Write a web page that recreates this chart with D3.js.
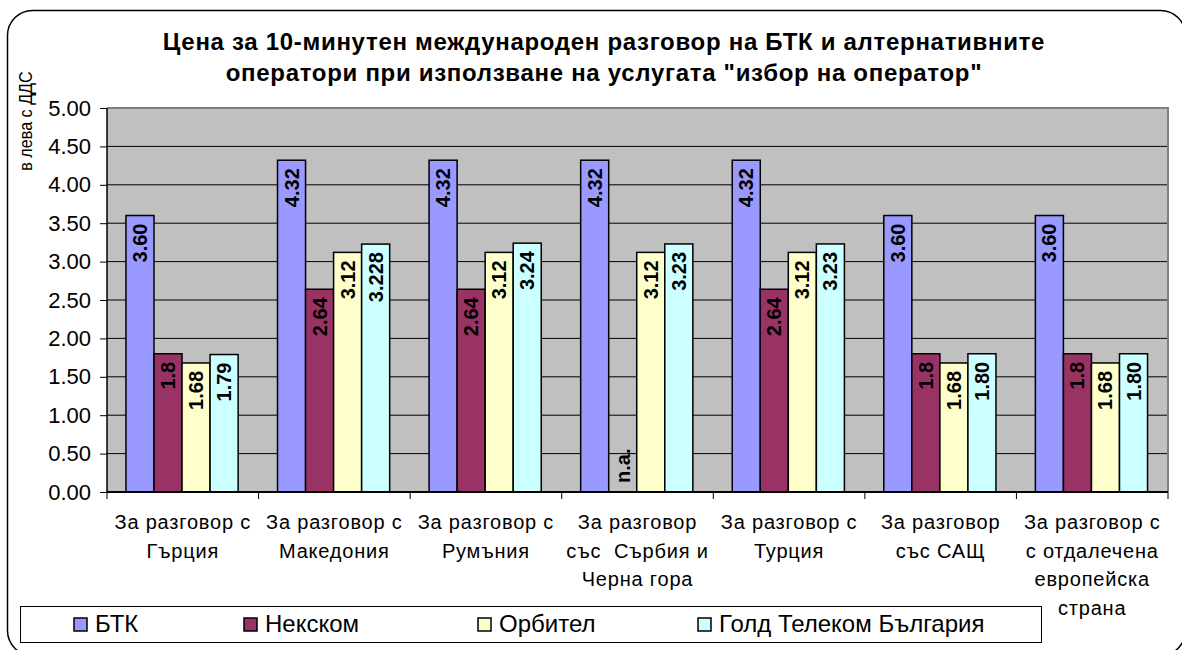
<!DOCTYPE html>
<html lang="bg">
<head>
<meta charset="UTF-8">
<title>Цена за 10-минутен международен разговор</title>
<script src="https://cdnjs.cloudflare.com/ajax/libs/d3/7.8.5/d3.min.js"></script>
<style>
  body { margin: 0; background: #fff; }
  svg { display: block; font-family: "Liberation Sans", Arial, sans-serif; }
</style>
</head>
<body>
<svg id="chart" width="1182" height="650"></svg>
<script>
// categories (x-axis labels, one entry per line)
const categories = [
  ["За разговор с", "Гърция"],
  ["За разговор с", "Македония"],
  ["За разговор с", "Румъния"],
  ["За разговор", "със  Сърбия и", "Черна гора"],
  ["За разговор с", "Турция"],
  ["За разговор", "със САЩ"],
  ["За разговор с", "с отдалечена", "европейска", "страна"]
];
const seriesNames = ["БТК", "Некском", "Орбител", "Голд Телеком България"];

// prices, лв с ДДС
const btk     = [3.60, 4.32, 4.32, 4.32, 4.32, 3.60, 3.60];
const nexcom  = [1.8, 2.64, 2.64, null, 2.64, 1.8, 1.8];
const orbitel = [1.68, 3.12, 3.12, 3.12, 3.12, 1.68, 1.68];
const gold    = [1.79, 3.228, 3.24, 3.23, 3.23, 1.80, 1.80];

// labels as printed on the bars
const btkLabels     = ["3.60", "4.32", "4.32", "4.32", "4.32", "3.60", "3.60"];
const nexcomLabels  = ["1.8", "2.64", "2.64", "n.a.", "2.64", "1.8", "1.8"];
const orbitelLabels = ["1.68", "3.12", "3.12", "3.12", "3.12", "1.68", "1.68"];
const goldLabels    = ["1.79", "3.228", "3.24", "3.23", "3.23", "1.80", "1.80"];

const yTicks = [0, 0.5, 1, 1.5, 2, 2.5, 3, 3.5, 4, 4.5, 5];

const titleLines = [
  "Цена за 10-минутен международен разговор на БТК и алтернативните",
  "оператори при използване на услугата \"избор на оператор\""
];
const yTitle = "в лева с ДДС";

const colors = ["#9999ff", "#993366", "#ffffcc", "#ccffff"];
const values = [btk, nexcom, orbitel, gold];
const labels = [btkLabels, nexcomLabels, orbitelLabels, goldLabels];

const svg = d3.select("#chart");
const pLeft = 107, pRight = 1168, pTop = 108, pBottom = 492;

// outer frame
svg.append("rect")
  .attr("x", 7.5).attr("y", 10.5)
  .attr("width", 1178).attr("height", 645)
  .attr("rx", 25)
  .attr("fill", "#fff")
  .attr("stroke", "#000")
  .attr("stroke-width", 1.5);

// title
svg.append("g").selectAll("text")
  .data(titleLines)
  .join("text")
  .attr("x", 604)
  .attr("y", (d, i) => 50 + i * 31)
  .attr("text-anchor", "middle")
  .style("font-size", "24px")
  .style("letter-spacing", "0.7px")
  .style("font-weight", "bold")
  .text(d => d);

// scales
const x = d3.scaleBand()
  .domain(d3.range(categories.length))
  .range([pLeft, pRight])
  .padding(0);

const bw = x.bandwidth();
const xs = d3.scaleBand()
  .domain(d3.range(seriesNames.length))
  .range([bw * 0.125, bw * 0.865]);

const y = d3.scaleLinear().domain([0, 5]).range([pBottom, pTop]);

// plot background
svg.append("rect")
  .attr("x", pLeft).attr("y", pTop)
  .attr("width", pRight - pLeft).attr("height", pBottom - pTop)
  .attr("fill", "#c0c0c0");

// gridlines
svg.append("g").selectAll("line")
  .data(yTicks.filter(v => v > 0 && v < 5))
  .join("line")
  .attr("x1", pLeft).attr("x2", pRight)
  .attr("y1", d => y(d)).attr("y2", d => y(d))
  .attr("stroke", "#000")
  .attr("stroke-width", 1);

// top and right border of plot area
svg.append("path")
  .attr("d", `M${pLeft},${pTop}H${pRight}V${pBottom}`)
  .attr("fill", "none")
  .attr("stroke", "#808080")
  .attr("stroke-width", 2);

// bars
const groups = svg.append("g").selectAll("g")
  .data(categories.map((c, i) => i))
  .join("g")
  .attr("transform", i => `translate(${x(i)},0)`);

groups.selectAll("rect")
  .data(i => values.map((s, k) => ({ k, v: s[i], label: labels[k][i] })).filter(d => d.v != null))
  .join("rect")
  .attr("x", d => xs(d.k))
  .attr("y", d => y(d.v))
  .attr("width", xs.bandwidth())
  .attr("height", d => y(0) - y(d.v))
  .attr("fill", d => colors[d.k])
  .attr("stroke", "#000")
  .attr("stroke-width", 1.5);

// bar labels (rotated, inside end)
groups.selectAll("text")
  .data(i => values.map((s, k) => ({ k, v: s[i], label: labels[k][i] })))
  .join("text")
  .attr("transform", d => {
    const cx = xs(d.k) + xs.bandwidth() / 2;
    const yy = d.v == null ? y(0) - 9 : y(d.v) + 8;
    return `translate(${cx},${yy}) rotate(-90)`;
  })
  .attr("text-anchor", d => d.v == null ? "start" : "end")
  .attr("dy", "0.35em")
  .style("font-size", "20px")
  .style("font-weight", "bold")
  .attr("fill", "#000")
  .text(d => d.label);

// y axis
const yAxis = svg.append("g")
  .attr("transform", `translate(${pLeft},0)`)
  .call(d3.axisLeft(y).tickValues(yTicks).tickFormat(d3.format(".2f")).tickSize(7).tickPadding(9));
yAxis.select(".domain").attr("stroke", "#000").attr("stroke-width", 1.5).attr("d", `M0,${pTop}V${pBottom}`);
yAxis.selectAll(".tick line").attr("stroke", "#000");
yAxis.selectAll(".tick text")
  .attr("fill", "#000")
  .style("font-size", "22px")
  .style("font-family", "\"Liberation Sans\", Arial, sans-serif");

// y title
svg.append("text")
  .attr("transform", "translate(25,121) rotate(-90) scale(0.85,1)")
  .attr("text-anchor", "middle")
  .attr("dy", "0.35em")
  .style("font-size", "19px")
  .text(yTitle);

// x axis line and ticks at category boundaries
svg.append("line")
  .attr("x1", pLeft).attr("x2", pRight)
  .attr("y1", pBottom).attr("y2", pBottom)
  .attr("stroke", "#000").attr("stroke-width", 2);
svg.append("g").selectAll("line")
  .data(d3.range(categories.length + 1))
  .join("line")
  .attr("x1", i => pLeft + i * bw).attr("x2", i => pLeft + i * bw)
  .attr("y1", pBottom).attr("y2", pBottom + 7)
  .attr("stroke", "#000");

// x labels
const xl = svg.append("g").selectAll("text")
  .data(categories)
  .join("text")
  .attr("x", (d, i) => x(i) + bw / 2)
  .attr("y", 529)
  .attr("text-anchor", "middle")
  .style("font-size", "20px")
  .style("letter-spacing", "0.8px")
  .style("white-space", "pre");
xl.selectAll("tspan")
  .data(d => d)
  .join("tspan")
  .attr("x", function () { return this.parentNode.getAttribute("x"); })
  .attr("dy", (d, j) => j === 0 ? 0 : 28.5)
  .text(d => d);

// legend
svg.append("rect")
  .attr("x", 20.5).attr("y", 606.5)
  .attr("width", 1021).attr("height", 36)
  .attr("fill", "#fff")
  .attr("stroke", "#000")
  .attr("stroke-width", 1);

const legendX = [74, 244, 478, 698];
const lg = svg.append("g").selectAll("g")
  .data(seriesNames)
  .join("g")
  .attr("transform", (d, i) => `translate(${legendX[i]},624)`);
lg.append("rect")
  .attr("x", 0).attr("y", -6)
  .attr("width", 13).attr("height", 13)
  .attr("fill", (d, i) => colors[i])
  .attr("stroke", "#000")
  .attr("stroke-width", 1.5);
lg.append("text")
  .attr("x", 21)
  .attr("dy", "0.35em")
  .style("font-size", "24px")
  .text(d => d);
</script>
</body>
</html>
